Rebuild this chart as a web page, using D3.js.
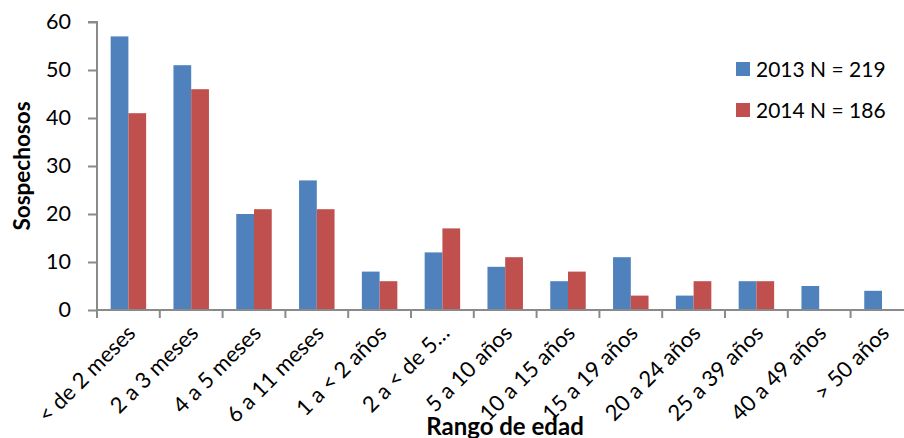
<!DOCTYPE html>
<html>
<head>
<meta charset="utf-8">
<script src="https://cdn.jsdelivr.net/npm/d3@7"></script>
<style>
  html, body { margin: 0; padding: 0; background: #fff; }
  svg { display: block; font-family: Lato, "Open Sans", sans-serif; }
</style>
</head>
<body>
<svg id="chart" width="904" height="438"></svg>
<script>
// Age ranges and suspected cases per year
const categories = ["< de 2 meses", "2 a 3 meses", "4 a 5 meses", "6 a 11 meses", "1 a < 2 años",
  "2 a < de 5…", "5 a 10 años", "10 a 15 años", "15 a 19 años", "20 a 24 años",
  "25 a 39 años", "40 a 49 años", "> 50 años"];
const values2013 = [57, 51, 20, 27, 8, 12, 9, 6, 11, 3, 6, 5, 4];
const values2014 = [41, 46, 21, 21, 6, 17, 11, 8, 3, 6, 6, null, null];
const seriesNames = ["2013 N = 219", "2014 N = 186"];
const seriesColors = ["#4F81BD", "#C0504D"];
const yTicks = [0, 10, 20, 30, 40, 50, 60];

const svg = d3.select("#chart");
const plotLeft = 97, plotTop = 22, plotBottom = 310;
const plotRight = plotLeft + 13 * 62.8;   // plot runs slightly past the page edge

const x = d3.scaleBand().domain(categories).range([plotLeft, plotRight]).paddingInner(0).paddingOuter(0);
const inner = d3.scaleBand().domain([0, 1]).range([0, x.bandwidth()]).paddingInner(0).paddingOuter(0.77);
const y = d3.scaleLinear().domain([0, 60]).range([plotBottom, plotTop]);

const axisColor = "#8a8a8a";

// Bars
const series = [values2013, values2014];
series.forEach((vals, si) => {
  svg.append("g").selectAll("rect")
    .data(categories.map((c, i) => ({ c, v: vals[i] })).filter(d => d.v != null && d.v > 0))
    .join("rect")
    .attr("x", d => x(d.c) + inner(si))
    .attr("y", d => y(d.v))
    .attr("width", inner.bandwidth())
    .attr("height", d => y(0) - y(d.v))
    .attr("fill", seriesColors[si]);
});

// Y axis
const yAxis = svg.append("g")
  .attr("transform", `translate(${plotLeft},0)`)
  .call(d3.axisLeft(y).tickValues(yTicks).tickSize(9).tickPadding(17));
yAxis.select(".domain").attr("stroke", axisColor).attr("stroke-width", 2)
  .attr("d", `M-9,${plotTop}H0V${plotBottom}`);
yAxis.selectAll(".tick line").attr("stroke", axisColor).attr("stroke-width", 2);
yAxis.selectAll(".tick text").attr("fill", "#000").attr("font-size", 21.5)
  .attr("font-family", "Lato, 'Open Sans', sans-serif");

// X axis with boundary ticks
const xAxis = svg.append("g").attr("transform", `translate(0,${plotBottom})`);
xAxis.append("line").attr("x1", plotLeft).attr("x2", plotRight).attr("stroke", axisColor).attr("stroke-width", 2);
xAxis.selectAll("line.b")
  .data(d3.range(categories.length + 1))
  .join("line")
  .attr("class", "b")
  .attr("x1", i => plotLeft + i * x.step()).attr("x2", i => plotLeft + i * x.step())
  .attr("y1", 0).attr("y2", 8)
  .attr("stroke", axisColor).attr("stroke-width", 2);
xAxis.selectAll("text")
  .data(categories)
  .join("text")
  .attr("transform", d => `translate(${x(d) + x.bandwidth() / 2 + 3},${19}) rotate(-45)`)
  .attr("text-anchor", "end")
  .attr("dy", "0.35em")
  .attr("font-size", 22)
  .attr("fill", "#000")
  .text(d => d);

// Axis titles
svg.append("text")
  .attr("transform", "translate(30,166) rotate(-90)")
  .attr("text-anchor", "middle")
  .attr("font-size", 22.5).attr("font-weight", "bold")
  .text("Sospechosos");
svg.append("text")
  .attr("x", 505).attr("y", 435)
  .attr("text-anchor", "middle")
  .attr("font-size", 24).attr("font-weight", "bold")
  .text("Rango de edad");

// Legend
const legend = svg.append("g").attr("transform", "translate(736,62)");
seriesNames.forEach((name, i) => {
  const g = legend.append("g").attr("transform", `translate(0,${i * 41})`);
  g.append("rect").attr("width", 14).attr("height", 14).attr("fill", seriesColors[i]);
  g.append("text").attr("x", 20).attr("y", 15).attr("font-size", 21).attr("fill", "#000").text(name);
});
</script>
</body>
</html>
